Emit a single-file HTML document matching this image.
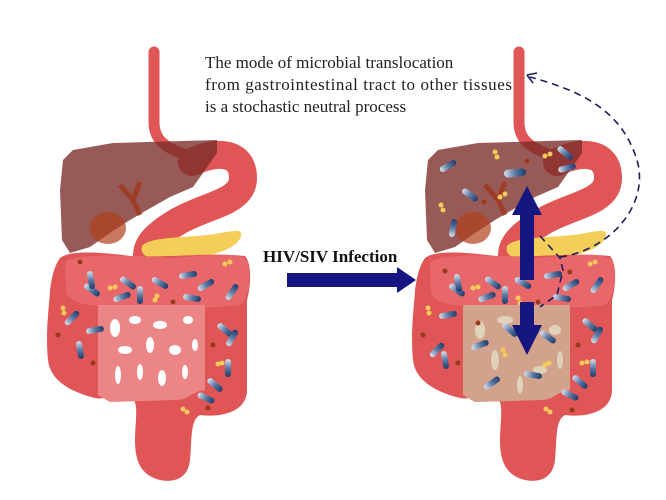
<!DOCTYPE html>
<html><head><meta charset="utf-8"><style>
html,body{margin:0;padding:0;background:#fff;width:666px;height:500px;overflow:hidden}
svg{display:block}
</style></head><body>
<svg width="666" height="500" viewBox="0 0 666 500" xmlns="http://www.w3.org/2000/svg">
<defs>
<linearGradient id="bac" x1="0" y1="0" x2="1" y2="0">
<stop offset="0" stop-color="#d9e2ef"/><stop offset="0.5" stop-color="#5c7aa3"/><stop offset="1" stop-color="#1d3a6b"/>
</linearGradient>
<g id="organs">
<path d="M154,52 L154,122 C154,145 172,150 200,160" fill="none" stroke="#e05656" stroke-width="11" stroke-linecap="round"/>
<path d="M192,162 C218,150 243,152 243,178 C243,203 205,205 177,222 C150,238 142,250 150,266" fill="none" stroke="#e05656" stroke-width="28" stroke-linecap="round"/>
<path d="M142,246 C150,236 190,238 215,234 C232,231 243,228 241,236 C238,248 215,256 190,258 C165,260 138,262 142,246Z" fill="#f3cf5a"/>
<path d="M60,258 C70,250 100,252 130,256 C170,258 210,252 245,256 C253,265 250,290 247,300 L247,390 C247,410 225,418 200,415 C190,420 192,440 190,460 C188,478 175,483 160,480 C140,475 135,460 135,440 C135,420 140,400 130,398 C110,395 103,400 95,398 C70,392 50,380 48,360 C45,330 50,300 50,290 C52,275 55,265 60,258Z" fill="#e05555"/>
<path d="M65,262 C80,252 140,256 170,258 C210,256 240,250 248,262 C252,280 248,300 240,305 C200,310 150,307 100,306 C80,305 66,300 66,290Z" fill="#e8676a"/>
<path d="M98,305 L205,305 L205,390 C190,392 190,400 175,400 L110,402 L98,395Z" fill="#ec8686"/>
<g fill="#fff">
<ellipse cx="115" cy="328" rx="5" ry="9"/><ellipse cx="135" cy="320" rx="6" ry="4"/><ellipse cx="160" cy="325" rx="7" ry="4"/><ellipse cx="188" cy="320" rx="5" ry="4"/>
<ellipse cx="125" cy="350" rx="7" ry="4"/><ellipse cx="150" cy="345" rx="4" ry="8"/><ellipse cx="175" cy="350" rx="6" ry="5"/><ellipse cx="195" cy="345" rx="3" ry="6"/>
<ellipse cx="118" cy="375" rx="3" ry="9"/><ellipse cx="140" cy="372" rx="3" ry="8"/><ellipse cx="162" cy="378" rx="4" ry="8"/><ellipse cx="185" cy="372" rx="3" ry="7"/>
</g>
<path d="M63,160 L73,150 L113,143 L217,140 L217,153 L203,173 L193,187 L170,197 L147,210 L130,220 L110,233 L90,247 L70,253 L62,240 L60,190Z" fill="#7a2c28" fill-opacity="0.78"/>
<ellipse cx="108" cy="228" rx="18" ry="16" fill="#b0401c" fill-opacity="0.7"/>
<path d="M120,185 L133,200 L140,215 M140,182 L133,200" stroke="#a0361c" stroke-width="5" fill="none" opacity="0.8"/>
</g>
</defs>

<use href="#organs"/>
<use href="#organs" transform="translate(365,0)"/>
<path d="M463,305 L570,305 L570,390 C555,392 555,400 540,400 L475,402 L463,395Z" fill="#d2a28c"/>
<g fill="#e0d2b8"><ellipse cx="480" cy="330" rx="5" ry="9"/><ellipse cx="505" cy="320" rx="8" ry="4"/><ellipse cx="555" cy="330" rx="6" ry="5"/><ellipse cx="495" cy="360" rx="4" ry="10"/><ellipse cx="540" cy="370" rx="7" ry="4"/><ellipse cx="520" cy="385" rx="3" ry="9"/><ellipse cx="560" cy="360" rx="3" ry="9"/></g>

<g fill="url(#bac)">
<rect x="-9" y="-3" width="18" height="6" rx="3" transform="translate(92,290) rotate(35)"/>
<rect x="-9" y="-3" width="18" height="6" rx="3" transform="translate(95,330) rotate(-10)"/>
<rect x="-9" y="-3" width="18" height="6" rx="3" transform="translate(72,318) rotate(-45)"/>
<rect x="-9" y="-3" width="18" height="6" rx="3" transform="translate(91,280) rotate(80)"/>
<rect x="-9" y="-3" width="18" height="6" rx="3" transform="translate(128,283) rotate(35)"/>
<rect x="-9" y="-3" width="18" height="6" rx="3" transform="translate(122,297) rotate(-20)"/>
<rect x="-9" y="-3" width="18" height="6" rx="3" transform="translate(140,295) rotate(90)"/>
<rect x="-9" y="-3" width="18" height="6" rx="3" transform="translate(160,283) rotate(30)"/>
<rect x="-9" y="-3" width="18" height="6" rx="3" transform="translate(188,275) rotate(-10)"/>
<rect x="-9" y="-3" width="18" height="6" rx="3" transform="translate(206,285) rotate(-30)"/>
<rect x="-9" y="-3" width="18" height="6" rx="3" transform="translate(192,298) rotate(10)"/>
<rect x="-9" y="-3" width="18" height="6" rx="3" transform="translate(232,292) rotate(-55)"/>
<rect x="-9" y="-3" width="18" height="6" rx="3" transform="translate(225,330) rotate(40)"/>
<rect x="-9" y="-3" width="18" height="6" rx="3" transform="translate(232,338) rotate(-60)"/>
<rect x="-9" y="-3" width="18" height="6" rx="3" transform="translate(228,368) rotate(90)"/>
<rect x="-9" y="-3" width="18" height="6" rx="3" transform="translate(215,385) rotate(40)"/>
<rect x="-9" y="-3" width="18" height="6" rx="3" transform="translate(206,398) rotate(25)"/>
<rect x="-9" y="-3" width="18" height="6" rx="3" transform="translate(80,350) rotate(80)"/>
</g>
<g fill="url(#bac)">
<rect x="-9" y="-3" width="18" height="6" rx="3" transform="translate(457,290) rotate(35)"/>
<rect x="-9" y="-3" width="18" height="6" rx="3" transform="translate(448,315) rotate(-10)"/>
<rect x="-9" y="-3" width="18" height="6" rx="3" transform="translate(437,350) rotate(-45)"/>
<rect x="-9" y="-3" width="18" height="6" rx="3" transform="translate(458,283) rotate(80)"/>
<rect x="-9" y="-3" width="18" height="6" rx="3" transform="translate(493,283) rotate(35)"/>
<rect x="-9" y="-3" width="18" height="6" rx="3" transform="translate(487,297) rotate(-20)"/>
<rect x="-9" y="-3" width="18" height="6" rx="3" transform="translate(505,295) rotate(90)"/>
<rect x="-9" y="-3" width="18" height="6" rx="3" transform="translate(523,283) rotate(30)"/>
<rect x="-9" y="-3" width="18" height="6" rx="3" transform="translate(553,275) rotate(-10)"/>
<rect x="-9" y="-3" width="18" height="6" rx="3" transform="translate(571,285) rotate(-30)"/>
<rect x="-9" y="-3" width="18" height="6" rx="3" transform="translate(562,298) rotate(10)"/>
<rect x="-9" y="-3" width="18" height="6" rx="3" transform="translate(597,285) rotate(-55)"/>
<rect x="-9" y="-3" width="18" height="6" rx="3" transform="translate(590,325) rotate(40)"/>
<rect x="-9" y="-3" width="18" height="6" rx="3" transform="translate(597,335) rotate(-60)"/>
<rect x="-9" y="-3" width="18" height="6" rx="3" transform="translate(593,368) rotate(90)"/>
<rect x="-9" y="-3" width="18" height="6" rx="3" transform="translate(580,382) rotate(40)"/>
<rect x="-9" y="-3" width="18" height="6" rx="3" transform="translate(570,395) rotate(25)"/>
<rect x="-9" y="-3" width="18" height="6" rx="3" transform="translate(445,360) rotate(80)"/>
<rect x="-9" y="-3" width="18" height="6" rx="3" transform="translate(480,345) rotate(-20)"/>
<rect x="-9" y="-3" width="18" height="6" rx="3" transform="translate(510,330) rotate(40)"/>
<rect x="-9" y="-3" width="18" height="6" rx="3" transform="translate(548,337) rotate(35)"/>
<rect x="-9" y="-3" width="18" height="6" rx="3" transform="translate(533,375) rotate(10)"/>
<rect x="-9" y="-3" width="18" height="6" rx="3" transform="translate(492,383) rotate(-35)"/>
<rect x="-9" y="-3" width="18" height="6" rx="3" transform="translate(448,166) rotate(-30)"/>
<rect x="-11" y="-4" width="22" height="8" rx="4" transform="translate(515,173) rotate(-5)"/>
<rect x="-9" y="-3" width="18" height="6" rx="3" transform="translate(470,195) rotate(35)"/>
<rect x="-9" y="-3" width="18" height="6" rx="3" transform="translate(453,228) rotate(-80)"/>
<rect x="-9" y="-3" width="18" height="6" rx="3" transform="translate(565,153) rotate(40)"/>
<rect x="-9" y="-3" width="18" height="6" rx="3" transform="translate(567,168) rotate(-15)"/>
</g>
<g fill="#9a3a1a">
<circle cx="80" cy="262" r="2.5"/><circle cx="173" cy="302" r="2.5"/><circle cx="58" cy="335" r="2.5"/><circle cx="93" cy="363" r="2.5"/><circle cx="213" cy="345" r="2.5"/><circle cx="208" cy="408" r="2.5"/>
<circle cx="445" cy="271" r="2.5"/><circle cx="538" cy="302" r="2.5"/><circle cx="423" cy="335" r="2.5"/><circle cx="458" cy="363" r="2.5"/><circle cx="578" cy="345" r="2.5"/><circle cx="572" cy="410" r="2.5"/><circle cx="570" cy="272" r="2.5"/><circle cx="478" cy="323" r="2.5"/><circle cx="527" cy="161" r="2.5"/><circle cx="484" cy="202" r="2.5"/>
</g>
<g fill="#f5c95a">
<circle cx="225" cy="264" r="2.5"/><circle cx="230" cy="262" r="2.5"/><circle cx="110" cy="288" r="2.5"/><circle cx="115" cy="287" r="2.5"/><circle cx="155" cy="300" r="2.5"/><circle cx="157" cy="296" r="2.5"/><circle cx="63" cy="308" r="2.5"/><circle cx="64" cy="313" r="2.5"/><circle cx="218" cy="364" r="2.5"/><circle cx="222" cy="363" r="2.5"/><circle cx="183" cy="409" r="2.5"/><circle cx="187" cy="412" r="2.5"/>
<circle cx="590" cy="264" r="2.5"/><circle cx="595" cy="262" r="2.5"/><circle cx="473" cy="288" r="2.5"/><circle cx="478" cy="287" r="2.5"/><circle cx="518" cy="298" r="2.5"/><circle cx="520" cy="303" r="2.5"/><circle cx="428" cy="308" r="2.5"/><circle cx="429" cy="313" r="2.5"/><circle cx="582" cy="363" r="2.5"/><circle cx="587" cy="362" r="2.5"/><circle cx="545" cy="365" r="2.5"/><circle cx="549" cy="363" r="2.5"/><circle cx="503" cy="350" r="2.5"/><circle cx="505" cy="355" r="2.5"/><circle cx="546" cy="409" r="2.5"/><circle cx="550" cy="412" r="2.5"/>
<circle cx="495" cy="152" r="2.5"/><circle cx="497" cy="157" r="2.5"/><circle cx="441" cy="205" r="2.5"/><circle cx="443" cy="210" r="2.5"/><circle cx="500" cy="197" r="2.5"/><circle cx="505" cy="194" r="2.5"/><circle cx="545" cy="156" r="2.5"/><circle cx="550" cy="154" r="2.5"/>
</g>

<g fill="none" stroke="#1d1d5c" stroke-width="1.6" stroke-dasharray="7,5">
<path d="M560,257 C610,250 650,205 637,160 C622,112 585,92 530,77"/>
<path d="M540,236 L560,258 L563,270 L557,295 L540,307"/>
</g>
<path d="M527,75 L537,73 M527,75 L533,83" stroke="#1d1d5c" stroke-width="1.6"/>

<path d="M520,280 L520,215 L512,215 L527,186 L542,215 L534,215 L534,280Z" fill="#161680"/>
<path d="M520,302 L520,325 L512,325 L527,355 L542,325 L534,325 L534,302Z" fill="#161680"/>
<path d="M287,273 L397,273 L397,267 L416,280 L397,293 L397,287 L287,287Z" fill="#161680"/>

<g font-family="Liberation Serif, serif" fill="#222">
<text x="205" y="68" font-size="17">The mode of microbial translocation</text>
<text x="205" y="90" font-size="17" textLength="307">from gastrointestinal tract  to other tissues</text>
<text x="205" y="112" font-size="17">is a stochastic neutral process</text>
<text x="263" y="262" font-size="17" font-weight="bold" fill="#111">HIV/SIV Infection</text>
</g>
</svg>
</body></html>
